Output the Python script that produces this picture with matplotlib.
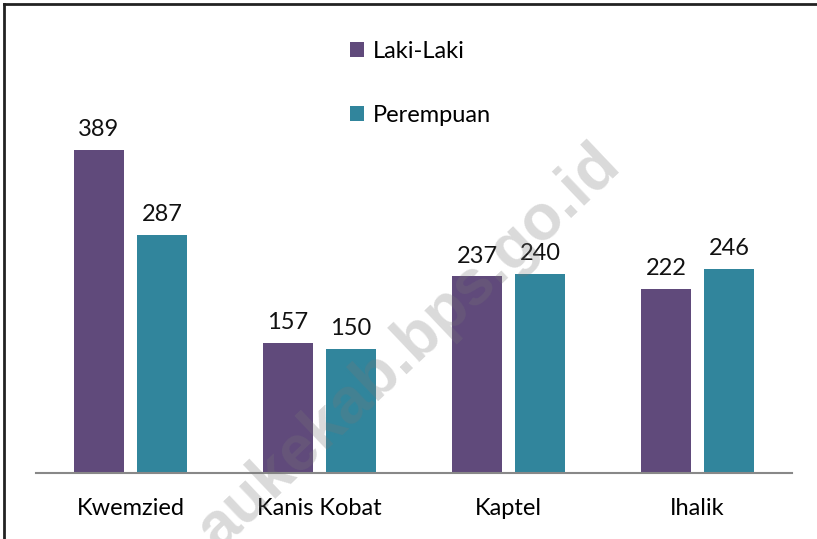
import numpy as np
import matplotlib.pyplot as plt
from matplotlib.lines import Line2D
from matplotlib.patches import Patch

plt.rcParams['font.family'] = ['Lato', 'DejaVu Sans']

# Datos
categories = ['Kwemzied', 'Kanis Kobat', 'Kaptel', 'Ihalik']
laki = [389, 157, 237, 222]
perempuan = [287, 150, 240, 246]
series_names = ['Laki-Laki', 'Perempuan']

c_laki = '#604A7B'
c_per = '#31859C'

fig = plt.figure(figsize=(8.17, 5.39), dpi=100)
ax = fig.add_axes([0.0441, 0.1224, 0.9253, 0.693])

x = np.arange(len(categories))
w = 0.265
off = 0.1667
b1 = ax.bar(x - off, laki, w, color=c_laki)
b2 = ax.bar(x + off, perempuan, w, color=c_per)

for bars in (b1, b2):
    for b in bars:
        ax.annotate(str(int(b.get_height())), (b.get_x() + b.get_width() / 2, b.get_height()),
                    xytext=(0, 7), textcoords='offset points', ha='center', va='bottom',
                    fontsize=17, color='#111111')

ax.set_xlim(-0.5, 3.5)
ax.set_ylim(0, 450)
ax.set_yticks([])
ax.set_xticks(x)
ax.set_xticklabels(categories, fontsize=17)
ax.tick_params(axis='x', length=0, pad=18)
for s in ['top', 'right', 'left']:
    ax.spines[s].set_visible(False)
ax.spines['bottom'].set_color('#888888')
ax.spines['bottom'].set_linewidth(1.5)

# Leyenda
handles = [Patch(facecolor=c_laki), Patch(facecolor=c_per)]
fig.legend(handles, series_names, loc='upper left', bbox_to_anchor=(0.402, 0.963),
           frameon=False, fontsize=17, handlelength=0.6, handleheight=0.6,
           handletextpad=0.4, labelspacing=1.8)

# Marca de agua
fig.text(0.50, 0.355, 'aukekab.bps.go.id', rotation=43.5, ha='center', va='center',
         fontsize=46, fontweight='bold', family='Liberation Sans',
         color='#777777', alpha=0.27)

# Marco
fig.add_artist(Line2D([0.005, 1.0], [0.992, 0.992], transform=fig.transFigure, color='#222222', lw=2))
fig.add_artist(Line2D([0.005, 0.005], [0.0, 0.992], transform=fig.transFigure, color='#222222', lw=2))

fig.savefig('out.png', dpi=100)
